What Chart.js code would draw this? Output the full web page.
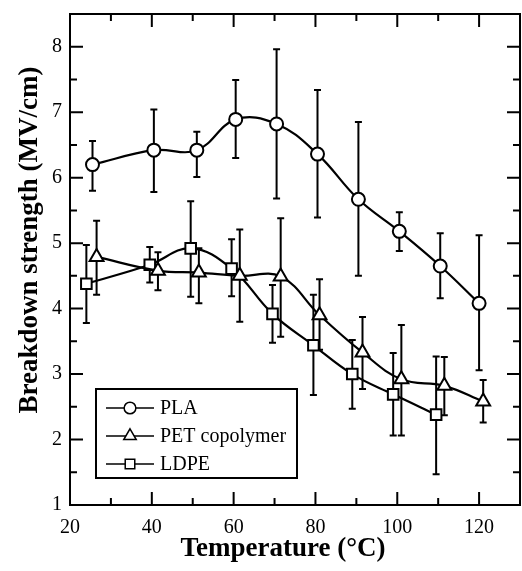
<!DOCTYPE html>
<html>
<head>
<meta charset="utf-8">
<script src="https://cdn.jsdelivr.net/npm/chart.js@4"></script>
<style>
  html, body { margin: 0; padding: 0; background: #fff; }
  #wrap { width: 522px; height: 571px; }
</style>
</head>
<body>
<div id="wrap"><canvas id="myChart"></canvas></div>
<script>
// temperatures (°C), mean breakdown strength and error bar limits (MV/cm)
const plaTemp = [25.5, 40.5, 51, 60.5, 70.5, 80.5, 90.5, 100.5, 110.5, 120];
const plaMean = [6.20, 6.42, 6.42, 6.89, 6.82, 6.36, 5.67, 5.18, 4.65, 4.08];
const plaHigh = [6.56, 7.04, 6.70, 7.49, 7.96, 7.34, 6.85, 5.47, 5.15, 5.12];
const plaLow  = [5.80, 5.78, 6.01, 6.30, 5.68, 5.39, 4.50, 4.88, 4.16, 3.06];

const petTemp = [26.5, 41.5, 51.5, 61.5, 71.5, 81, 91.5, 101, 111.5, 121];
const petMean = [4.79, 4.58, 4.55, 4.50, 4.49, 3.90, 3.33, 2.92, 2.82, 2.58];
const petHigh = [5.34, 4.86, 4.92, 5.21, 5.38, 4.45, 3.87, 3.75, 3.26, 2.91];
const petLow  = [4.21, 4.28, 4.08, 3.80, 3.57, 3.37, 2.77, 2.06, 2.37, 2.26];

const ldpeTemp = [24, 39.5, 49.5, 59.5, 69.5, 79.5, 89, 99, 109.5];
const ldpeMean = [4.38, 4.67, 4.92, 4.61, 3.92, 3.44, 3.00, 2.69, 2.38];
const ldpeHigh = [4.97, 4.94, 5.64, 5.06, 4.36, 4.21, 3.52, 3.32, 3.27];
const ldpeLow  = [3.78, 4.40, 4.18, 4.19, 3.48, 2.68, 2.47, 2.06, 1.47];

const xTicks = [20, 40, 60, 80, 100, 120];
const yTicks = [1, 2, 3, 4, 5, 6, 7, 8];

const series = [
  { label: 'PLA', style: 'circle', radius: 6.5, temp: plaTemp, mean: plaMean, hi: plaHigh, lo: plaLow },
  { label: 'PET copolymer', style: 'triangle', radius: 8, temp: petTemp, mean: petMean, hi: petHigh, lo: petLow },
  { label: 'LDPE', style: 'rect', radius: 7.5, temp: ldpeTemp, mean: ldpeMean, hi: ldpeHigh, lo: ldpeLow }
];

const serif = "'Liberation Serif', 'Times New Roman', serif";

function marker(ctx, style, r, x, y) {
  ctx.beginPath();
  if (style === 'circle') {
    ctx.arc(x, y, r, 0, Math.PI * 2);
  } else if (style === 'triangle') {
    ctx.moveTo(x, y - r);
    ctx.lineTo(x + r * 0.866, y + r / 2);
    ctx.lineTo(x - r * 0.866, y + r / 2);
    ctx.closePath();
  } else {
    const s = r * Math.SQRT1_2;
    ctx.rect(x - s, y - s, 2 * s, 2 * s);
  }
  ctx.fill();
  ctx.stroke();
}

// drop the label-based padding so the plot box sits where the layout says
function noPadding(scale) {
  scale.paddingTop = 0;
  scale.paddingBottom = 0;
  scale.paddingLeft = 0;
  scale.paddingRight = 0;
}

const decorations = {
  id: 'decorations',
  beforeDatasetsDraw(chart) {
    // error bars with short caps
    const { ctx, scales: { x, y } } = chart;
    ctx.save();
    ctx.strokeStyle = '#000';
    ctx.lineWidth = 2;
    series.forEach(s => {
      s.temp.forEach((t, i) => {
        const px = x.getPixelForValue(t);
        const top = y.getPixelForValue(s.hi[i]);
        const bot = y.getPixelForValue(s.lo[i]);
        ctx.beginPath();
        ctx.moveTo(px, top); ctx.lineTo(px, bot);
        ctx.moveTo(px - 3.5, top); ctx.lineTo(px + 3.5, top);
        ctx.moveTo(px - 3.5, bot); ctx.lineTo(px + 3.5, bot);
        ctx.stroke();
      });
    });
    ctx.restore();
  },
  afterDraw(chart) {
    const { ctx, chartArea: a, scales: { x, y } } = chart;
    ctx.save();
    ctx.strokeStyle = '#000';
    ctx.lineWidth = 2;
    ctx.strokeRect(a.left, a.top, a.right - a.left, a.bottom - a.top);

    // inward ticks on all four sides
    ctx.beginPath();
    for (let v = 30; v <= 120; v += 10) {
      const px = x.getPixelForValue(v);
      const len = v % 20 === 0 ? 13 : 7;
      ctx.moveTo(px, a.bottom); ctx.lineTo(px, a.bottom - len);
      ctx.moveTo(px, a.top); ctx.lineTo(px, a.top + len);
    }
    for (let v = 1.5; v <= 8; v += 0.5) {
      const py = y.getPixelForValue(v);
      const len = Number.isInteger(v) ? 13 : 7;
      ctx.moveTo(a.left, py); ctx.lineTo(a.left + len, py);
      ctx.moveTo(a.right, py); ctx.lineTo(a.right - len, py);
    }
    ctx.stroke();

    // axis titles
    ctx.fillStyle = '#000';
    ctx.font = 'bold 27px ' + serif;
    ctx.textAlign = 'center';
    ctx.textBaseline = 'alphabetic';
    ctx.fillText('Temperature (°C)', 283, 556);
    ctx.save();
    ctx.translate(37, 240);
    ctx.rotate(-Math.PI / 2);
    ctx.fillText('Breakdown strength (MV/cm)', 0, 0);
    ctx.restore();

    // legend box
    const bx = 96, by = 389, bw = 201, bh = 89;
    ctx.fillStyle = '#fff';
    ctx.fillRect(bx, by, bw, bh);
    ctx.lineWidth = 2;
    ctx.strokeRect(bx, by, bw, bh);
    ctx.font = '20px ' + serif;
    ctx.textAlign = 'left';
    ctx.textBaseline = 'middle';
    series.forEach((s, i) => {
      const ly = 408 + i * 28;
      ctx.lineWidth = 1.5;
      ctx.beginPath();
      ctx.moveTo(106, ly); ctx.lineTo(154, ly);
      ctx.stroke();
      ctx.fillStyle = '#fff';
      marker(ctx, s.style, s.radius * 0.9, 130, ly);
      ctx.fillStyle = '#000';
      ctx.fillText(s.label, 160, ly + 1);
    });
    ctx.restore();
  }
};

new Chart(document.getElementById('myChart'), {
  type: 'scatter',
  data: {
    datasets: series.map(s => ({
      label: s.label,
      data: s.temp.map((t, i) => ({ x: t, y: s.mean[i] })),
      showLine: true,
      tension: 0.4,
      borderColor: '#000',
      borderWidth: 2.2,
      pointStyle: s.style,
      pointRadius: s.radius,
      pointBorderWidth: 2,
      pointBackgroundColor: '#fff',
      pointBorderColor: '#000'
    }))
  },
  options: {
    responsive: true,
    maintainAspectRatio: false,
    animation: false,
    layout: { autoPadding: false, padding: { top: 14, right: 2, left: 0, bottom: 0 } },
    plugins: {
      legend: { display: false },
      tooltip: { enabled: false }
    },
    scales: {
      x: {
        type: 'linear',
        min: 20,
        max: 130,
        grid: { display: false, drawTicks: false },
        border: { display: false },
        afterBuildTicks: scale => { scale.ticks = xTicks.map(v => ({ value: v })); },
        afterFit: scale => { scale.height = 66; noPadding(scale); },
        ticks: { color: '#000', padding: 11, maxRotation: 0, font: { family: serif, size: 20 } }
      },
      y: {
        min: 1,
        max: 8.5,
        grid: { display: false, drawTicks: false },
        border: { display: false },
        afterBuildTicks: scale => { scale.ticks = yTicks.map(v => ({ value: v })); },
        afterFit: scale => { scale.width = 70; noPadding(scale); },
        ticks: { color: '#000', padding: 8, font: { family: serif, size: 20 } }
      }
    }
  },
  plugins: [decorations]
});
</script>
</body>
</html>
